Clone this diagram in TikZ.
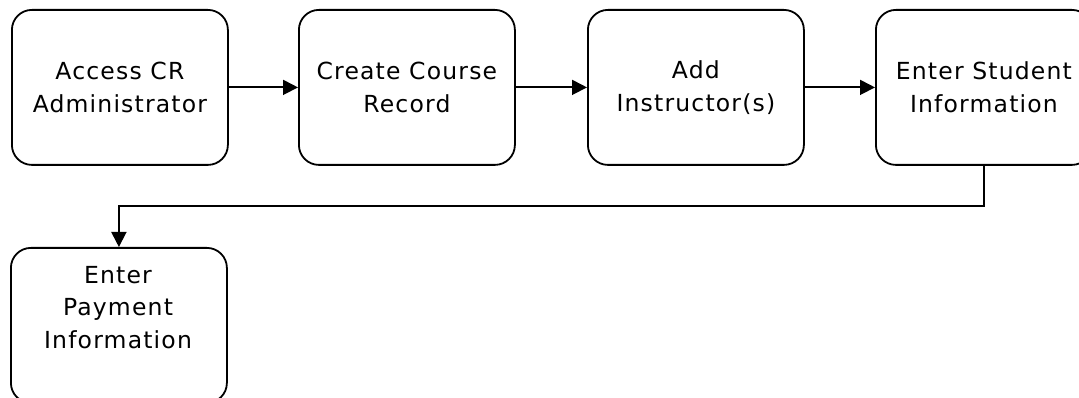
\documentclass[tikz,border=0pt]{standalone}
\usepackage{fontspec}
\newfontfamily\boxfont[LetterSpace=5]{DejaVu Sans}
\usetikzlibrary{arrows.meta}
\begin{document}
\begin{tikzpicture}[x=1pt,y=-1pt,
  proc/.style={draw,line width=1.8pt,rounded corners=20pt,minimum width=216pt,minimum height=155pt,inner sep=0pt,anchor=north west},
  txt/.style={align=center,inner sep=0pt,font=\boxfont\fontsize{23.5}{32.5}\selectfont},
  conn/.style={line width=1.8pt,-{Triangle[length=15pt,width=15pt]}}]
\useasboundingbox (0,0) rectangle (1079,398);
\clip (0,0) rectangle (1079,398);
\node[proc,txt] (p1) at (11,9) {Access CR\\Administrator};
\node[proc,txt] (p2) at (298,9) {Create Course\\Record};
\node[proc,txt] (p3) at (587,9) {Add\\Instructor(s)};
\node[proc,txt] (p4) at (875,9) {Enter Student\\Information};
\node[proc] (p5) at (10,247) {};
\node[txt,anchor=north] (p5t) at (118,266) {Enter\\Payment\\Information};
\draw[conn] (p1.east) -- (p2.west);
\draw[conn] (p2.east) -- (p3.west);
\draw[conn] (p3.east) -- (p4.west);
\draw[conn] (p4.south) -- ++(0,40) -| (p5.north);
\end{tikzpicture}
\end{document}
